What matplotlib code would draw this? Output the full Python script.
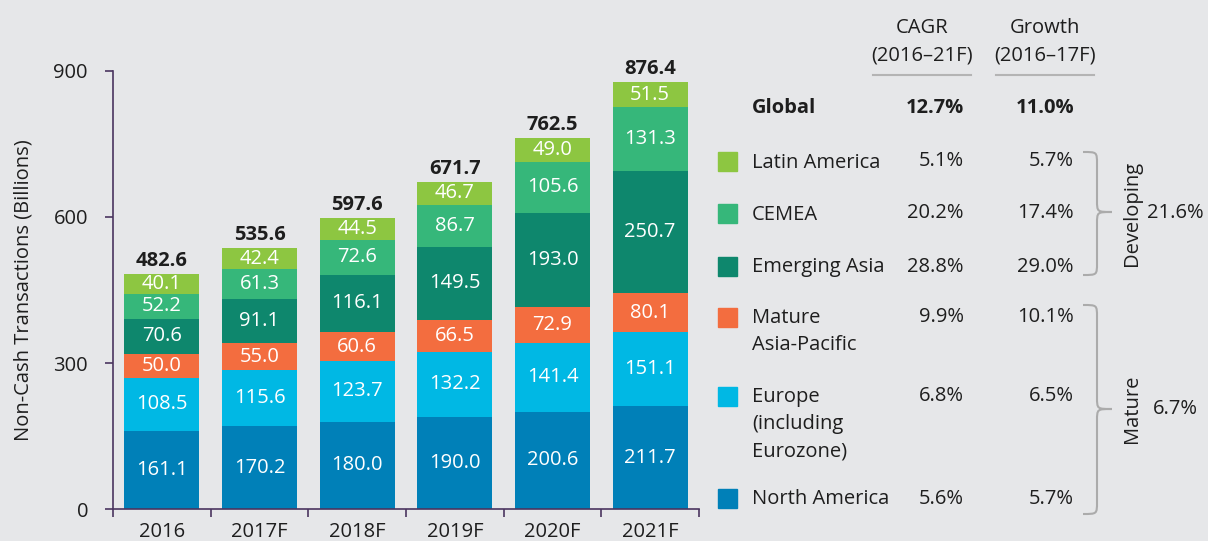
import matplotlib.pyplot as plt
from matplotlib.path import Path
from matplotlib.patches import PathPatch, Rectangle
import numpy as np

# Data
years = ['2016', '2017F', '2018F', '2019F', '2020F', '2021F']
north_america = [161.1, 170.2, 180.0, 190.0, 200.6, 211.7]
europe = [108.5, 115.6, 123.7, 132.2, 141.4, 151.1]
mature_apac = [50.0, 55.0, 60.6, 66.5, 72.9, 80.1]
emerging_asia = [70.6, 91.1, 116.1, 149.5, 193.0, 250.7]
cemea = [52.2, 61.3, 72.6, 86.7, 105.6, 131.3]
latin_america = [40.1, 42.4, 44.5, 46.7, 49.0, 51.5]
totals = [482.6, 535.6, 597.6, 671.7, 762.5, 876.4]

regions = ['Latin America', 'CEMEA', 'Emerging Asia', 'Mature\nAsia-Pacific',
           'Europe\n(including\nEurozone)', 'North America']
cagr = ['5.1%', '20.2%', '28.8%', '9.9%', '6.8%', '5.6%']
growth = ['5.7%', '17.4%', '29.0%', '10.1%', '6.5%', '5.7%']
global_cagr = '12.7%'
global_growth = '11.0%'
developing_cagr = '21.6%'
mature_cagr = '6.7%'

colors = {
    'na': '#0080b8', 'eu': '#00b8e4', 'map': '#f36d3f',
    'ea': '#0e876d', 'ce': '#36b77a', 'la': '#8dc641',
}
legend_colors = [colors['la'], colors['ce'], colors['ea'], colors['map'], colors['eu'], colors['na']]

BG = '#e6e7e9'
TXT = '#1e1e1e'
SPINE = '#4a3560'
FS = 14.5
plt.rcParams['font.family'] = ['Open Sans', 'DejaVu Sans']

W, H = 1208, 541
fig = plt.figure(figsize=(W / 100, H / 100), dpi=100, facecolor=BG)


def fx(x):
    return x / W


def fy(y):
    return 1 - y / H


# Axes
ax = fig.add_axes([fx(113), fy(509.3), (699 - 113) / W, (509.3 - 70.7) / H])
ax.set_facecolor(BG)
x = np.arange(len(years))
bw = 0.77
series = [north_america, europe, mature_apac, emerging_asia, cemea, latin_america]
scol = [colors['na'], colors['eu'], colors['map'], colors['ea'], colors['ce'], colors['la']]
bottom = np.zeros(len(years))
for vals, c in zip(series, scol):
    vals = np.array(vals)
    ax.bar(x, vals, bw, bottom=bottom, color=c, linewidth=0)
    for xi, b, v in zip(x, bottom, vals):
        ax.text(xi, b + v / 2, f'{v:.1f}', ha='center', va='center',
                color='white', fontsize=FS)
    bottom += vals

for xi, t in zip(x, totals):
    ax.text(xi, t + 6, f'{t:.1f}', ha='center', va='bottom', color=TXT,
            fontsize=FS, fontweight='bold')

ax.set_xlim(-0.5, 5.5)
ax.set_ylim(0, 900)
ax.set_yticks([0, 300, 600, 900])
ax.set_xticks(x)
ax.set_xticklabels(years)
ax.set_xticks(np.arange(-0.5, 6, 1), minor=True)
ax.tick_params(axis='x', which='major', length=0, pad=9, labelsize=FS, colors=TXT)
ax.tick_params(axis='x', which='minor', length=6, color=SPINE, width=1.2)
ax.tick_params(axis='y', length=6, color=SPINE, width=1.2, pad=12, labelsize=FS, labelcolor=TXT)
for s in ['top', 'right']:
    ax.spines[s].set_visible(False)
for s in ['left', 'bottom']:
    ax.spines[s].set_color(SPINE)
    ax.spines[s].set_linewidth(1.2)
ax.set_ylabel('Non-Cash Transactions (Billions)', fontsize=FS, color=TXT, labelpad=14)

# Table header
fig.text(fx(922), fy(28), 'CAGR', ha='center', va='center', fontsize=FS, color=TXT)
fig.text(fx(922), fy(55), '(2016–21F)', ha='center', va='center', fontsize=FS, color=TXT)
fig.text(fx(1045), fy(28), 'Growth', ha='center', va='center', fontsize=FS, color=TXT)
fig.text(fx(1045), fy(55), '(2016–17F)', ha='center', va='center', fontsize=FS, color=TXT)
for x0, x1 in [(873, 971), (996, 1094)]:
    fig.add_artist(plt.Line2D([fx(x0), fx(x1)], [fy(75), fy(75)], color='#b4b4b4', lw=1.5))

fig.text(fx(752), fy(108), 'Global', ha='left', va='center', fontsize=FS,
         fontweight='bold', color=TXT)
fig.text(fx(964), fy(108), global_cagr, ha='right', va='center', fontsize=FS,
         fontweight='bold', color=TXT)
fig.text(fx(1074), fy(108), global_growth, ha='right', va='center', fontsize=FS,
         fontweight='bold', color=TXT)

# Legend rows
row_y = [161.5, 213.5, 266.5, 317, 396, 498.5]
for name, c, cg, gr, ry in zip(regions, legend_colors, cagr, growth, row_y):
    fig.add_artist(Rectangle((fx(718), fy(ry + 9.5)), 19 / W, 19 / H, color=c,
                             transform=fig.transFigure))
    fig.text(fx(752), fy(ry - 9), name, ha='left', va='top', fontsize=FS,
             color=TXT, linespacing=1.5)
    fig.text(fx(964), fy(ry), cg, ha='right', va='center', fontsize=FS, color=TXT)
    fig.text(fx(1074), fy(ry), gr, ha='right', va='center', fontsize=FS, color=TXT)


# Braces
def brace(x0, xm, xt, y1, ym, y2, r=12):
    pts = [(x0, y1), (xm, y1), (xm, y1), (xm, y1 + r),
           (xm, ym - r), (xm, ym), (xm, ym), (xt, ym),
           (xm, ym), (xm, ym), (xm, ym + r),
           (xm, y2 - r), (xm, y2), (xm, y2), (x0, y2)]
    codes = [Path.MOVETO, Path.CURVE4, Path.CURVE4, Path.CURVE4,
             Path.LINETO, Path.CURVE4, Path.CURVE4, Path.CURVE4,
             Path.CURVE4, Path.CURVE4, Path.CURVE4,
             Path.LINETO, Path.CURVE4, Path.CURVE4, Path.CURVE4]
    verts = [(fx(a), fy(b)) for a, b in pts]
    fig.add_artist(PathPatch(Path(verts, codes), fill=False, edgecolor='#ababab',
                             lw=1.5, transform=fig.transFigure))


brace(1083, 1097, 1112, 152, 212, 275)
brace(1083, 1097, 1112, 305, 409, 514)

fig.text(fx(1132), fy(213), 'Developing', rotation=90, ha='center', va='center',
         fontsize=FS, color=TXT)
fig.text(fx(1147), fy(213), developing_cagr, ha='left', va='center', fontsize=FS, color=TXT)
fig.text(fx(1132), fy(409), 'Mature', rotation=90, ha='center', va='center',
         fontsize=FS, color=TXT)
fig.text(fx(1153), fy(409), mature_cagr, ha='left', va='center', fontsize=FS, color=TXT)

fig.savefig('out.png', dpi=100, facecolor=BG)
